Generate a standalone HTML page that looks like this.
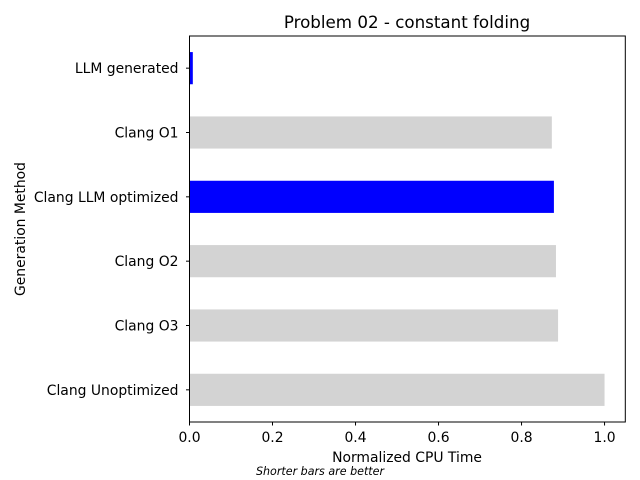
<!DOCTYPE html>
<html><head><meta charset="utf-8"><style>
body{margin:0;background:#fff}
svg{display:block;font-family:"DejaVu Sans","Liberation Sans",sans-serif}
</style></head><body>
<svg id="c" width="640" height="480" viewBox="0 0 640 480">
<rect width="640" height="480" fill="#fff"/>
<text x="407" y="28" font-size="16.7" text-anchor="middle">Problem 02 - constant folding</text>
<g id="bars"></g>
<g id="axes"></g>
<text x="407" y="462" font-size="13.9" text-anchor="middle">Normalized CPU Time</text>
<text transform="translate(25,229) rotate(-90)" font-size="13.9" text-anchor="middle">Generation Method</text>
<text x="320" y="475" font-size="11.1" font-style="italic" text-anchor="middle">Shorter bars are better</text>
</svg>
<script>
const categories=["Clang Unoptimized","Clang O3","Clang O2","Clang LLM optimized","Clang O1","LLM generated"];
const values=[1.0,0.888,0.883,0.878,0.873,0.008];
const colors=["#d3d3d3","#d3d3d3","#d3d3d3","#0000ff","#d3d3d3","#0000ff"];
const xTicks=[0,0.2,0.4,0.6,0.8,1.0];
const xTickLabels=["0.0","0.2","0.4","0.6","0.8","1.0"];
const L=189.5,R=625.3,T=36,B=422,xMax=1.05;
const ns="http://www.w3.org/2000/svg";
const sx=v=>L+(v/xMax)*(R-L);
const n=categories.length;
const sy=i=>B-(i+0.5)*(B-T)/n;
const bh=0.5*(B-T)/n;
const bars=document.getElementById('bars'),axes=document.getElementById('axes');
function mk(tag,attrs,parent){const e=document.createElementNS(ns,tag);for(const k in attrs)e.setAttribute(k,attrs[k]);parent.appendChild(e);return e;}
values.forEach((v,i)=>{
 const r=mk('rect',{x:sx(0),y:sy(i)-bh/2,width:sx(v)-sx(0),height:bh,fill:colors[i]},bars);
 
 
 mk('line',{x1:L-3.5,x2:L,y1:sy(i),y2:sy(i),stroke:'#000','stroke-width':1},axes);
 const t=mk('text',{x:L-11,y:sy(i)+5,'font-size':13.9,'text-anchor':'end'},axes);
 t.textContent=categories[i];
 
 
});
xTicks.forEach((v,i)=>{
 mk('line',{x1:sx(v),x2:sx(v),y1:B,y2:B+3.5,stroke:'#000','stroke-width':1},axes);
 const t=mk('text',{x:sx(v),y:B+20,'font-size':13.9,'text-anchor':'middle'},axes);
 t.textContent=xTickLabels[i];
 
 
});
const f=mk('rect',{x:L,y:T,width:R-L,height:B-T,fill:'none',stroke:'#000','stroke-width':1},axes);


</script>
</body></html>
